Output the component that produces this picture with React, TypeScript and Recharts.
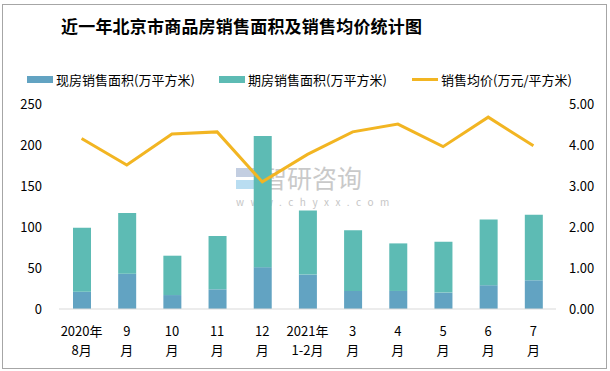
import { ComposedChart, Bar, Line, XAxis, YAxis } from 'recharts';

const monthTop = ['2020年', '9', '10', '11', '12', '2021年', '3', '4', '5', '6', '7'];
const monthBottom = ['8月', '月', '月', '月', '月', '1-2月', '月', '月', '月', '月', '月'];
const spotArea = [21, 43, 17, 24, 51, 42, 22, 22, 20, 29, 35];
const futureArea = [78, 74, 48, 65, 160, 78, 74, 58, 62, 80, 80];
const avgPrice = [4.16, 3.51, 4.27, 4.32, 3.1, 3.77, 4.32, 4.51, 3.96, 4.68, 3.98];
const leftTicks = [0, 50, 100, 150, 200, 250];
const rightTicks = [0, 0.5, 1, 1.5, 2, 2.5, 3, 3.5, 4, 4.5, 5];

const chartData = monthTop.map((top, i) => ({
  name: `${top}\n${monthBottom[i]}`,
  spot: spotArea[i],
  future: futureArea[i],
  price: avgPrice[i],
}));

const SPOT = '#62A3C2';
const FUTURE = '#5DBBB4';
const PRICE = '#F2B522';
const FONT = '"Noto Sans CJK SC", "Noto Sans", sans-serif';

const MonthTick = (props: any) => {
  const { x, y, payload } = props;
  const [a, b] = String(payload.value).split('\n');
  return (
    <g>
      <text x={x} y={y + 19} textAnchor="middle" dominantBaseline="central" fontSize={13} fill="#000" fontFamily={FONT}>
        {a}
      </text>
      <text x={x} y={y + 38} textAnchor="middle" dominantBaseline="central" fontSize={13} fill="#000" fontFamily={FONT}>
        {b}
      </text>
    </g>
  );
};

const legendItems = [
  { label: '现房销售面积(万平方米)', color: SPOT, kind: 'bar', left: 27 },
  { label: '期房销售面积(万平方米)', color: FUTURE, kind: 'bar', left: 219 },
  { label: '销售均价(万元/平方米)', color: PRICE, kind: 'line', left: 412 },
];

export default function App() {
  return (
    <div style={{ position: 'absolute', left: 0, top: 0, width: 610, height: 371, background: '#fff', fontFamily: FONT }}>
      <div style={{ position: 'absolute', left: 2, top: 4, width: 603, height: 363, border: '1px solid #A6A6A6' }} />
      <div style={{ position: 'absolute', left: 61, top: 13, fontSize: 17, fontWeight: 'bold', color: '#000', whiteSpace: 'nowrap', letterSpacing: 0.2 }}>
        近一年北京市商品房销售面积及销售均价统计图
      </div>
      {/* watermark */}
      <div style={{ position: 'absolute', left: 236, top: 168, width: 22, height: 9, background: '#B4C2DA', opacity: 0.8 }} />
      <div style={{ position: 'absolute', left: 236, top: 180, width: 22, height: 9, background: '#A8D4EE', opacity: 0.8 }} />
      <div style={{ position: 'absolute', left: 262, top: 165, color: '#B8B8B8', fontSize: 25, lineHeight: '25px', whiteSpace: 'nowrap', opacity: 0.75 }}>
        智研咨询
      </div>
      <div style={{ position: 'absolute', left: 236, top: 197, color: '#B8B8B8', fontSize: 10, lineHeight: '10px', letterSpacing: 6.5, whiteSpace: 'nowrap', opacity: 0.8 }}>
        www.chyxx.com
      </div>
      {legendItems.map((it) => (
        <div key={it.label} style={{ position: 'absolute', left: it.left, top: 70, display: 'flex', alignItems: 'center', fontSize: 13, whiteSpace: 'nowrap', color: '#000' }}>
          <span style={{ display: 'inline-block', width: 26, height: it.kind === 'bar' ? 7 : 3, background: it.color, marginRight: 3 }} />
          {it.label}
        </div>
      ))}
      <div style={{ position: 'absolute', left: 0, top: 0 }}>
        <ComposedChart width={610} height={371} data={chartData} margin={{ top: 104, right: 0, bottom: 0, left: 0 }}>
          <XAxis
            dataKey="name"
            height={62}
            tick={<MonthTick />}
            tickLine={false}
            tickSize={0}
            interval={0}
            axisLine={{ stroke: '#D9D9D9' }}
          />
          <YAxis
            yAxisId="left"
            width={59}
            domain={[0, 250]}
            ticks={leftTicks}
            tickSize={0}
            tickMargin={17}
            axisLine={false}
            tickLine={false}
            tick={{ fill: '#000', fontSize: 13, fontFamily: FONT }}
          />
          <YAxis
            yAxisId="right"
            orientation="right"
            width={54}
            domain={[0, 5]}
            ticks={rightTicks}
            tickFormatter={(v: number) => v.toFixed(2)}
            tickSize={0}
            tickMargin={13}
            axisLine={false}
            tickLine={false}
            tick={{ fill: '#000', fontSize: 13, fontFamily: FONT, textAnchor: 'start' }}
          />
          <Bar yAxisId="left" dataKey="spot" stackId="a" fill={SPOT} barSize={18} isAnimationActive={false} />
          <Bar yAxisId="left" dataKey="future" stackId="a" fill={FUTURE} barSize={18} isAnimationActive={false} />
          <Line
            yAxisId="right"
            dataKey="price"
            stroke={PRICE}
            strokeWidth={3}
            dot={false}
            activeDot={false}
            type="linear"
            isAnimationActive={false}
          />
        </ComposedChart>
      </div>
    </div>
  );
}
